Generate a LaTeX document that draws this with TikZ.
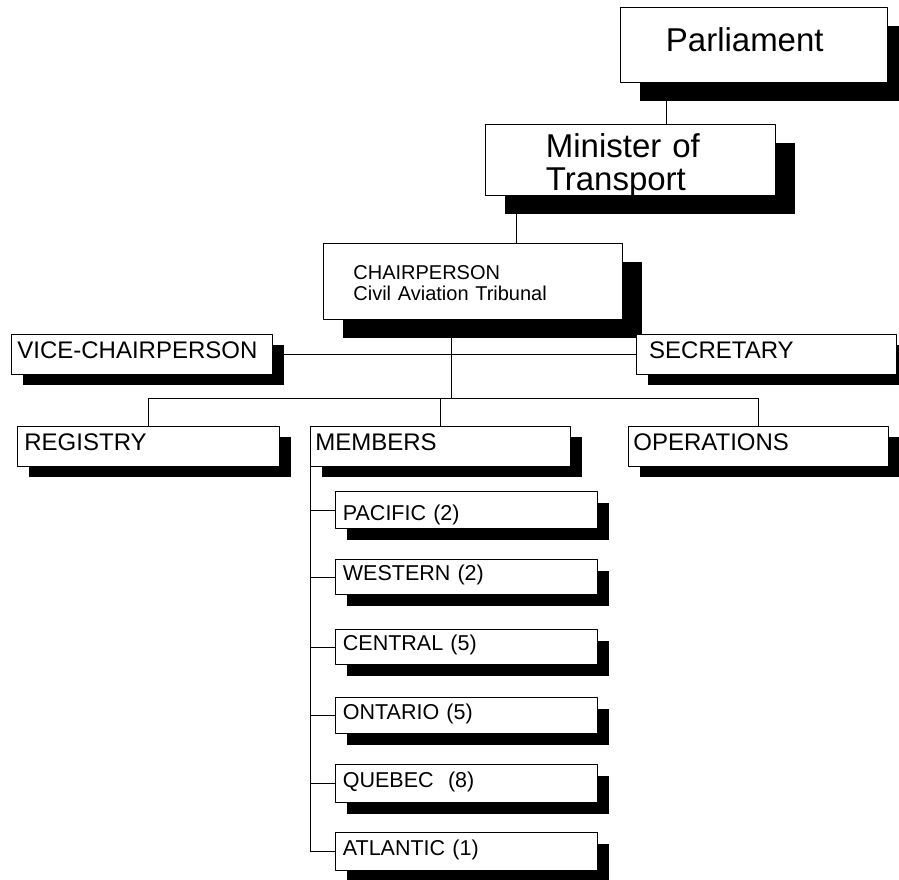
\documentclass[tikz,border=0pt]{standalone}
\usepackage{fontspec}
\setmainfont{Liberation Sans}
\usetikzlibrary{shadows,backgrounds}

\begin{document}
\begin{tikzpicture}[line cap=round,line join=round,x=1pt,y=-1pt,
        box/.style={draw,line width=0.8pt,fill=white,anchor=north west,align=left,inner ysep=2pt},
        bigbox/.style={box,drop shadow={shadow xshift=20pt,shadow yshift=-19pt,fill=black,opacity=1},font=\fontsize{33}{33}\selectfont},
        chairbox/.style={box,drop shadow={shadow xshift=20pt,shadow yshift=-19pt,fill=black,opacity=1},font=\fontsize{20}{21}\selectfont},
        unitbox/.style={box,drop shadow={shadow xshift=12pt,shadow yshift=-11pt,fill=black,opacity=1},font=\fontsize{24}{26}\selectfont,minimum height=40pt,text height=17pt,text depth=8pt},
        regionbox/.style={box,drop shadow={shadow xshift=12pt,shadow yshift=-11.5pt,fill=black,opacity=1},font=\fontsize{21.5}{23}\selectfont,inner xsep=7.5pt,text width=247pt,text height=15pt,text depth=7.5pt},
        link/.style={line width=0.8pt}]
    \useasboundingbox (0,0) rectangle (899,880);
    % top of the chain
    \node [bigbox,inner xsep=45.5pt,text width=176pt,minimum height=75pt,text height=24pt,text depth=11pt] (parl) at (620,7) {Parliament};
    \node [bigbox,inner xsep=60.5pt,text width=169pt,minimum height=71pt,text height=24pt,text depth=29pt] (mot) at (485,124) {Minister of\\Transport};
    \node [chairbox,inner xsep=30pt,text width=239pt,minimum height=76pt,text height=14pt,text depth=18pt] (chair) at (323,243) {CHAIRPERSON\\Civil Aviation Tribunal};
    % units
    \node [unitbox,inner xsep=6pt,text width=249pt] (vice) at (11,334) {VICE-CHAIRPERSON};
    \node [unitbox,inner xsep=12.8pt,text width=234.4pt] (sec) at (636,334) {SECRETARY};
    \node [unitbox,inner xsep=7pt,text width=248pt] (reg) at (17,426) {REGISTRY};
    \node [unitbox,inner xsep=5pt,text width=250pt] (mem) at (310,426) {MEMBERS};
    \node [unitbox,inner xsep=5pt,text width=250pt] (ops) at (628,426) {OPERATIONS};
    % regions
    \node [regionbox,minimum height=37pt,text height=21pt,text depth=0pt] (pac) at (335,491) {PACIFIC (2)};
    \node [regionbox,minimum height=35pt] (wes) at (335,559) {WESTERN (2)};
    \node [regionbox,minimum height=35pt] (cen) at (335,629) {CENTRAL (5)};
    \node [regionbox,minimum height=36pt] (ont) at (335,697) {ONTARIO (5)};
    \node [regionbox,minimum height=38pt] (que) at (335,764) {QUEBEC~ (8)};
    \node [regionbox,minimum height=38pt] (atl) at (335,832) {ATLANTIC (1)};
    % connectors
    \coordinate (parlfoot) at ([xshift=46pt]parl.south west);
    \coordinate (motfoot) at ([xshift=31pt]mot.south west);
    \coordinate (chairfoot) at ([xshift=128pt]chair.south west);
    \coordinate (bus) at ([yshift=28pt]reg.north);
    \begin{pgfonlayer}{background}
        \draw [link] (parlfoot) -- (parlfoot |- mot.north);
        \draw [link] (motfoot) -- (motfoot |- chair.north);
        \draw [link] (vice.east) -- (sec.west);
        \draw [link] (chairfoot) -- (chairfoot |- bus);
        \draw [link] (reg.north) -- (bus) -| (ops.north);
        \draw [link] (mem.north) -- (mem.north |- bus);
        \draw [link] (mem.south west) |- (atl.west);
        \draw [link] (pac.west) -- (pac.west -| mem.south west);
        \draw [link] (wes.west) -- (wes.west -| mem.south west);
        \draw [link] (cen.west) -- (cen.west -| mem.south west);
        \draw [link] (ont.west) -- (ont.west -| mem.south west);
        \draw [link] (que.west) -- (que.west -| mem.south west);
    \end{pgfonlayer}
\end{tikzpicture}
\end{document}
